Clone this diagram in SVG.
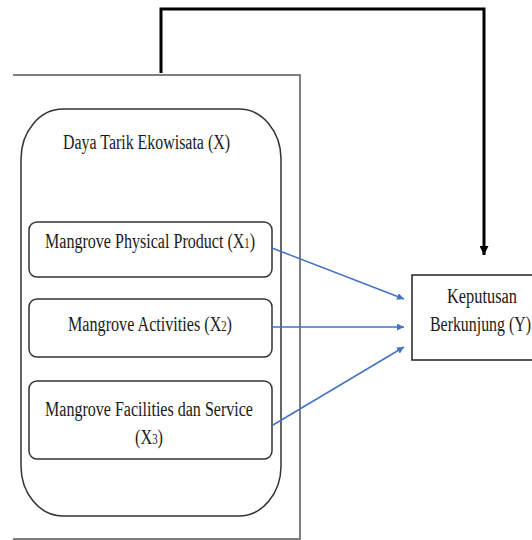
<svg xmlns="http://www.w3.org/2000/svg" width="532" height="540" viewBox="0 0 532 540">
  <style>
    /* narrow, tall serif labels: 16px type stretched vertically */
    .lbl { font-family: "Liberation Serif", "Times New Roman", serif; font-size: 16px; fill: #1a1a1a; }
    .sub { font-size: 10.5px; }
    .frame { fill: none; stroke: #555; stroke-width: 1.5; }
    .box { fill: #fff; stroke: #333; stroke-width: 1.5; }
    .flow { fill: none; stroke: #4472C4; stroke-width: 1.5; }
    .feedback { fill: none; stroke: #000; stroke-width: 3; }
  </style>
  <defs>
    <marker id="blueHead" viewBox="0 0 10 10" refX="10" refY="5" markerWidth="7" markerHeight="7" markerUnits="userSpaceOnUse" orient="auto">
      <path d="M0,0 L10,5 L0,10 z" fill="#4472C4"/>
    </marker>
    <marker id="blackHead" viewBox="0 0 10 10" refX="10" refY="5" markerWidth="9" markerHeight="9" markerUnits="userSpaceOnUse" orient="auto">
      <path d="M0,0 L10,5 L0,10 z" fill="#000"/>
    </marker>
  </defs>

  <rect width="532" height="540" fill="#fff"/>

  <!-- open outer frame around the construct -->
  <g id="frame">
    <path class="frame" d="M13,75 H300 V539 H13"/>
  </g>

  <!-- Daya Tarik Ekowisata container -->
  <g id="daya-tarik">
    <path class="box" d="M63,109 H239 A42,50 0 0 1 281,159 V466 A42,50 0 0 1 239,516 H63 A42,50 0 0 1 21,466 V159 A42,50 0 0 1 63,109 Z"/>
    <text class="lbl" transform="translate(63,149) scale(1,1.35)" textLength="167" lengthAdjust="spacingAndGlyphs">Daya Tarik Ekowisata (X)</text>
  </g>

  <g id="x1">
    <rect class="box" x="29" y="222" width="243" height="55" rx="8"/>
    <text class="lbl" transform="translate(45,248) scale(1,1.35)" textLength="210" lengthAdjust="spacingAndGlyphs">Mangrove Physical Product (X<tspan class="sub">1</tspan>)</text>
  </g>

  <g id="x2">
    <rect class="box" x="29" y="299" width="243" height="58" rx="8"/>
    <text class="lbl" transform="translate(68,331) scale(1,1.35)" textLength="164" lengthAdjust="spacingAndGlyphs">Mangrove Activities (X<tspan class="sub">2</tspan>)</text>
  </g>

  <g id="x3">
    <rect class="box" x="29" y="381" width="243" height="78" rx="8"/>
    <text class="lbl" transform="translate(45,416) scale(1,1.35)" textLength="208" lengthAdjust="spacingAndGlyphs">Mangrove Facilities dan Service</text>
    <text class="lbl" transform="translate(135,444) scale(1,1.35)" textLength="28" lengthAdjust="spacingAndGlyphs">(X<tspan class="sub">3</tspan>)</text>
  </g>

  <g id="y">
    <rect x="412" y="275" width="146" height="85" fill="#fff" stroke="#222" stroke-width="1.5"/>
    <text class="lbl" transform="translate(447,303) scale(1,1.35)" textLength="70" lengthAdjust="spacingAndGlyphs">Keputusan</text>
    <text class="lbl" transform="translate(430,331) scale(1,1.35)" textLength="101" lengthAdjust="spacingAndGlyphs">Berkunjung (Y)</text>
  </g>

  <g id="connectors">
    <path class="flow" d="M272,248 L404,299" marker-end="url(#blueHead)"/>
    <path class="flow" d="M272,327 L404,327" marker-end="url(#blueHead)"/>
    <path class="flow" d="M273,425 L404,347" marker-end="url(#blueHead)"/>
    <path class="feedback" d="M161,73 V9 H484 V255" marker-end="url(#blackHead)"/>
  </g>
</svg>
